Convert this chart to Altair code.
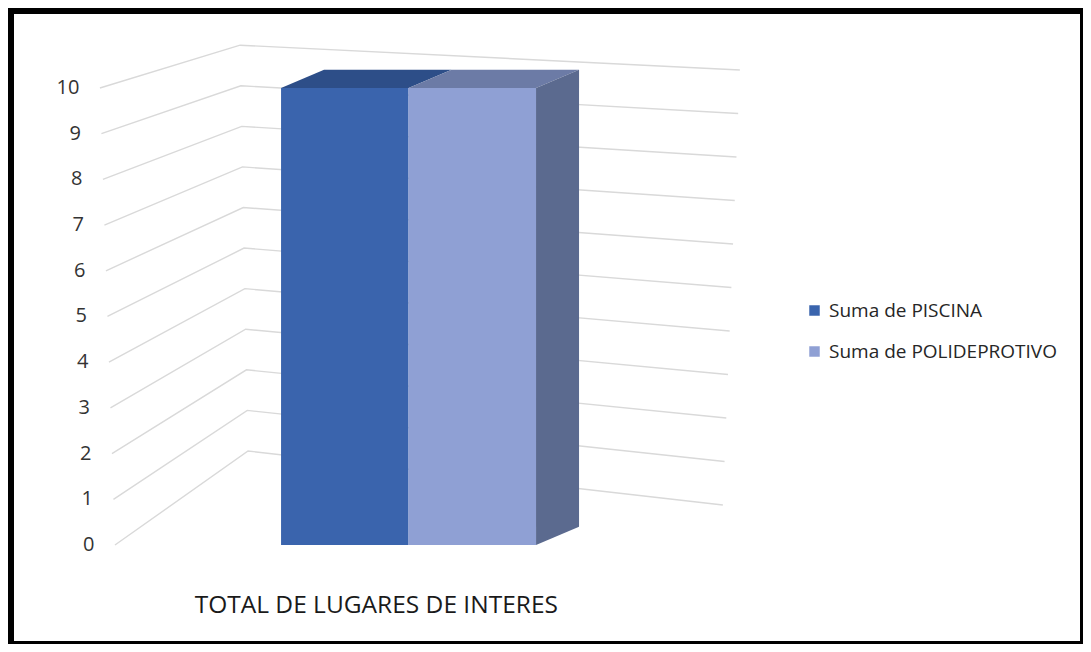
import altair as alt
import pandas as pd

# ---- data ----
ticks = [0, 1, 2, 3, 4, 5, 6, 7, 8, 9, 10]
series = ["Suma de PISCINA", "Suma de POLIDEPROTIVO"]
values = [10, 10]
category = "TOTAL DE LUGARES DE INTERES"

# ---- style / layout constants (abstract x units 0..100, y in value units) ----
front_colors = ["#3A64AD", "#8FA0D4"]
top_colors = ["#2D4E88", "#6C7BA6"]
side_color = "#5B6A8F"
grid_color = "#D9D9D9"
FONT = "Open Sans"
X0, BW, DX, DV = 25.4, 11.86, 4.0, 0.4
W, H = 1075, 636
YDOM = [-2.1663, 11.7505]

xs = alt.Scale(domain=[0, 100], nice=False, zero=False)
ys = alt.Scale(domain=YDOM, nice=False, zero=False)

# tables built from the arrays
grid_df = pd.DataFrame([{"v": t, "k": k} for t in ticks for k in range(3)])
tick_df = pd.DataFrame({"v": ticks})
bar_df = pd.DataFrame({"series": series, "val": values, "i": list(range(len(series)))})
top_df = pd.DataFrame([{"series": s, "val": v, "i": i, "c": c}
                       for i, (s, v) in enumerate(zip(series, values)) for c in range(4)])
side_df = pd.DataFrame([{"series": series[-1], "val": values[-1], "i": len(series) - 1, "c": c}
                        for c in range(2)])
cat_df = pd.DataFrame({"label": [category]})
one = pd.DataFrame({"k": [0]})

# perspective gridlines
grid = alt.Chart(grid_df).transform_calculate(
    u="datum.k==0 ? 9.95-0.14*datum.v : (datum.k==1 ? 22.33-0.074*datum.v : 66.5+0.158*datum.v)",
    yv="datum.k==0 ? datum.v : (datum.k==1 ? 2.057+0.888*datum.v : 0.875+0.952*datum.v)",
).mark_line(color=grid_color, strokeWidth=1.4).encode(
    x=alt.X("u:Q", scale=xs, axis=None),
    y=alt.Y("yv:Q", scale=ys, axis=None),
    detail="v:N",
    order="k:Q",
)

# y tick labels following the perspective
ylabels = alt.Chart(tick_df).transform_calculate(
    u="9.95-0.14*datum.v-1.9", yv="datum.v", txt="''+datum.v"
).mark_text(align="right", baseline="middle", font=FONT, fontSize=20, color="#333333").encode(
    x=alt.X("u:Q", scale=xs, axis=None),
    y=alt.Y("yv:Q", scale=ys, axis=None),
    text="txt:N",
)

# front faces
front = alt.Chart(bar_df).transform_calculate(
    bx0=f"{X0}+datum.i*{BW}", bx1=f"{X0}+(datum.i+1)*{BW}", zero="0"
).mark_bar(strokeWidth=0).encode(
    x=alt.X("bx0:Q", scale=xs, axis=None),
    x2="bx1:Q",
    y=alt.Y("val:Q", scale=ys, axis=None, stack=None),
    y2="zero:Q",
    color=alt.Color("series:N", scale=alt.Scale(domain=series, range=front_colors),
                    legend=alt.Legend(orient="none", legendX=797, legendY=293, title=None,
                                      symbolType="square", symbolSize=110, symbolStrokeWidth=0,
                                      labelFont=FONT, labelFontSize=19, labelColor="#262626",
                                      labelLimit=0, rowPadding=21, labelOffset=5)),
)

# top faces
top = alt.Chart(top_df).transform_calculate(
    x0=f"{X0}+datum.i*{BW}", x1=f"{X0}+(datum.i+1)*{BW}"
).transform_calculate(
    u=f"datum.c==0 ? datum.x0 : (datum.c==1 ? datum.x0+{DX} : (datum.c==2 ? datum.x1 : datum.x1+{DX}))",
    yv=f"datum.c==0 ? datum.val : datum.val+{DV}",
    yv2=f"datum.c==3 ? datum.val+{DV} : datum.val",
).mark_area(strokeWidth=0, opacity=1).encode(
    x=alt.X("u:Q", scale=xs, axis=None),
    y=alt.Y("yv:Q", scale=ys, axis=None, stack=None),
    y2="yv2:Q",
    color=alt.Color("series:N", scale=alt.Scale(domain=series, range=top_colors), legend=None),
)

# side face of the last bar
side = alt.Chart(side_df).transform_calculate(
    x1=f"{X0}+(datum.i+1)*{BW}"
).transform_calculate(
    u=f"datum.c==0 ? datum.x1 : datum.x1+{DX}",
    yv=f"datum.c==0 ? datum.val : datum.val+{DV}",
    yv2=f"datum.c==0 ? 0 : {DV}",
).mark_area(color=side_color, strokeWidth=0, opacity=1).encode(
    x=alt.X("u:Q", scale=xs, axis=None),
    y=alt.Y("yv:Q", scale=ys, axis=None, stack=None),
    y2="yv2:Q",
)

# category label
cat = alt.Chart(cat_df).transform_calculate(
    u=f"{X0}+{BW}*{len(series)}/2-3.0", yv="-1.335"
).mark_text(align="center", baseline="middle", font=FONT, fontSize=24.5, color="#1a1a1a").encode(
    x=alt.X("u:Q", scale=xs, axis=None),
    y=alt.Y("yv:Q", scale=ys, axis=None),
    text="label:N",
)

# black frame
frame_left = alt.Chart(one).mark_rule(color="black", strokeWidth=7).encode(
    x=alt.value(2.5), y=alt.value(0), y2=alt.value(H))
frame_top = alt.Chart(one).mark_rule(color="black", strokeWidth=6).encode(
    x=alt.value(0), x2=alt.value(W), y=alt.value(3))
frame_right = alt.Chart(one).mark_rule(color="black", strokeWidth=3).encode(
    x=alt.value(W - 1.5), y=alt.value(0), y2=alt.value(H))
frame_bottom = alt.Chart(one).mark_rule(color="black", strokeWidth=3).encode(
    x=alt.value(0), x2=alt.value(W), y=alt.value(H - 1.5))

chart = alt.layer(
    grid, ylabels, front, top, side, cat, frame_left, frame_top, frame_right, frame_bottom
).resolve_scale(color="independent").properties(
    width=W, height=H, padding=0, autosize=alt.AutoSizeParams(type="none"), background="white"
).configure_view(stroke=None)

chart.save("out.html", embed_options={"renderer": "svg", "actions": False})
